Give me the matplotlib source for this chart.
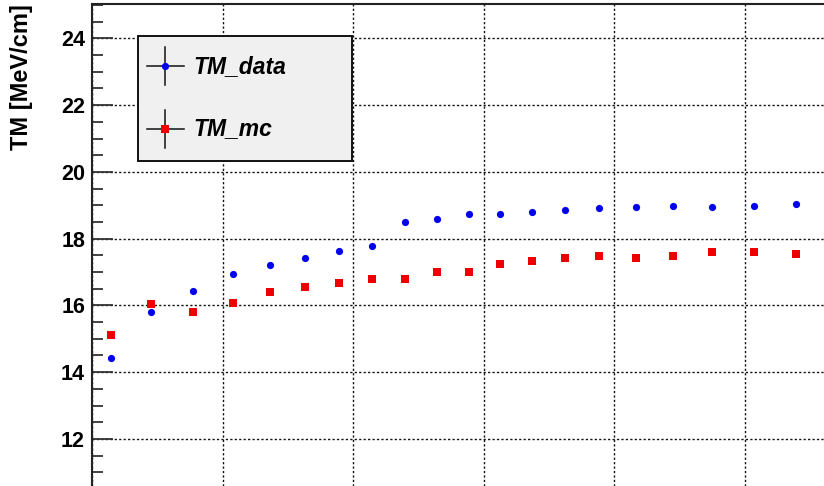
import matplotlib
matplotlib.use("Agg")
import matplotlib.pyplot as plt
from matplotlib.patches import Rectangle
from matplotlib.lines import Line2D
from matplotlib.ticker import MultipleLocator, NullFormatter

# Bin centres (in axis units) and truncated-mean values per bin
bin_centers = [0.146, 0.452, 0.774, 1.080, 1.364, 1.632, 1.893, 2.146, 2.398, 2.644,
               2.889, 3.126, 3.372, 3.625, 3.885, 4.169, 4.452, 4.751, 5.073, 5.395]
tm_data = [14.42, 15.80, 16.43, 16.94, 17.20, 17.41, 17.64, 17.79, 18.49, 18.59,
           18.73, 18.75, 18.81, 18.87, 18.92, 18.95, 18.98, 18.94, 18.99, 19.03]
tm_mc = [15.10, 16.03, 15.80, 16.06, 16.39, 16.54, 16.68, 16.80, 16.80, 17.01,
         17.01, 17.23, 17.34, 17.42, 17.49, 17.42, 17.49, 17.60, 17.60, 17.53]
series_labels = ["TM_data", "TM_mc"]
y_label = "TM [MeV/cm]"

W, H = 824, 486
plt.rcParams["font.family"] = ["Liberation Sans", "DejaVu Sans"]

fig = plt.figure(figsize=(W / 100, H / 100), dpi=100)
fig.patch.set_facecolor("white")

ax = fig.add_axes([92 / W, 0.0, 1 - 92 / W, (H - 4) / H])
ax.set_xlim(0, 732 / 130.5)
ax.set_ylim(10.59, 25.03)

ax.plot(bin_centers, tm_data, linestyle="none", marker="o", markersize=5.2,
        color="#0000ee", markeredgewidth=0, zorder=3)
ax.plot(bin_centers, tm_mc, linestyle="none", marker="s", markersize=5.8,
        color="#ee0000", markeredgewidth=0, zorder=3)

# Dotted grid
ax.xaxis.set_major_locator(MultipleLocator(1))
ax.yaxis.set_major_locator(MultipleLocator(2))
ax.yaxis.set_minor_locator(MultipleLocator(0.5))
ax.yaxis.set_minor_formatter(NullFormatter())
ax.grid(True, which="major", color="#111111", linewidth=1.0,
        linestyle=(0, (1.6, 1.6)))
ax.set_axisbelow(True)

for side in ("right", "bottom"):
    ax.spines[side].set_visible(False)
for side in ("left", "top"):
    ax.spines[side].set_linewidth(1.5)
    ax.spines[side].set_color("#222222")

ax.tick_params(axis="x", which="both", length=0, labelbottom=False)
ax.tick_params(axis="y", which="major", direction="in", length=15, width=1.3,
               color="#333333", labelsize=15.5, pad=5)
ax.tick_params(axis="y", which="minor", direction="in", length=8, width=1.3,
               color="#333333")
for lbl in ax.get_yticklabels():
    lbl.set_fontweight("bold")

fig.text(22 / W, 1 - 77 / H, y_label, rotation=90, ha="center", va="center",
         fontsize=17, fontweight="bold")


def px(x, y):
    return x / W, 1 - y / H


# Legend box
x0, y0, x1, y1 = 138, 36, 352, 161
fig.add_artist(Rectangle(px(x0, y1), (x1 - x0) / W, (y1 - y0) / H,
                         transform=fig.transFigure, facecolor="#f0f0f0",
                         edgecolor="#111111", linewidth=1.4, zorder=5))

entries = [(series_labels[0], 66.5, "o", "#0000ee", 5.2),
           (series_labels[1], 129.0, "s", "#ee0000", 5.8)]
for text, yc, mk, col, ms in entries:
    xm = 164.5
    fig.add_artist(Line2D([px(147, yc)[0], px(184, yc)[0]],
                          [px(0, yc)[1], px(0, yc)[1]],
                          transform=fig.transFigure, color="#111111",
                          linewidth=1.1, zorder=6))
    fig.add_artist(Line2D([px(xm, 0)[0], px(xm, 0)[0]],
                          [px(0, yc - 19)[1], px(0, yc + 19)[1]],
                          transform=fig.transFigure, color="#111111",
                          linewidth=1.1, zorder=6))
    fig.add_artist(Line2D([px(xm, 0)[0]], [px(0, yc)[1]], marker=mk,
                          markersize=ms, color=col, markeredgewidth=0,
                          linestyle="none", transform=fig.transFigure,
                          zorder=7))
    fig.text(*px(193, yc), text, ha="left", va="center", fontsize=16.5,
             fontweight="bold", fontstyle="italic", zorder=8)

fig.savefig("out.png", dpi=100)
